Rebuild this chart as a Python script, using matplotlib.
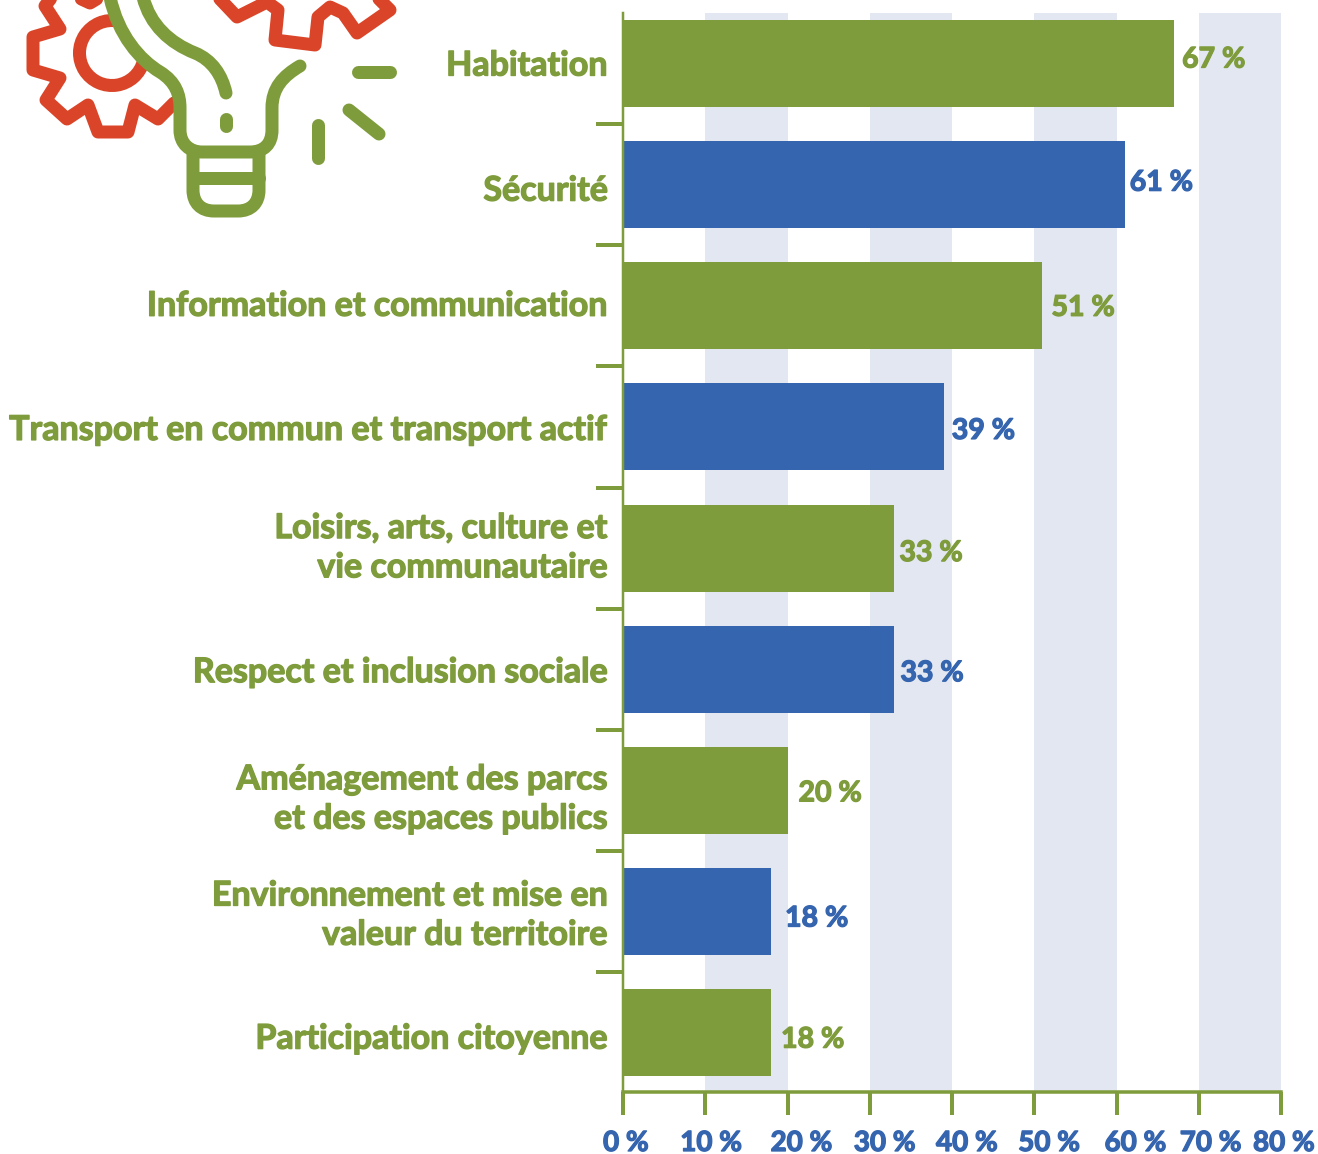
import matplotlib
matplotlib.use('Agg')
import matplotlib.pyplot as plt
import matplotlib.patheffects as pe
from matplotlib.path import Path
from matplotlib.patches import PathPatch, Arc
from matplotlib.transforms import ScaledTranslation

categories = ['Habitation', 'Sécurité', 'Information et communication',
              'Transport en commun et transport actif',
              'Loisirs, arts, culture et\nvie communautaire',
              'Respect et inclusion sociale',
              'Aménagement des parcs\net des espaces publics',
              'Environnement et mise en\nvaleur du territoire',
              'Participation citoyenne']
values = [67, 61, 51, 39, 33, 33, 20, 18, 18]
x_ticks = [0, 10, 20, 30, 40, 50, 60, 70, 80]
bands = [10, 30, 50, 70]

GREEN = '#7e9c3b'
BLUE = '#3565ae'
RED = '#da4529'
BAND = '#e3e7f2'
W, H = 1318, 1154

plt.rcParams['font.family'] = ['Lato', 'DejaVu Sans']
plt.rcParams['font.weight'] = 'bold'

fig = plt.figure(figsize=(W / 100, H / 100), dpi=100)
ax = fig.add_axes([623 / W, 1 - 1092 / H, 658 / W, (1092 - 13) / H])

px = 72 / 100  # points per pixel


def heavy(t, color):
    # no black weight that renders here, so thicken the bold a little
    t.set_path_effects([pe.withStroke(linewidth=1.3 * px, foreground=color)])


for b in bands:
    ax.axvspan(b, b + 10, color=BAND, lw=0, zorder=0)

bar_colors = [GREEN, BLUE] * 2 + [GREEN, BLUE, GREEN, BLUE, GREEN]
ax.barh(range(len(values)), values, height=87 / 121.1, color=bar_colors, zorder=2)

ax.set_xlim(0, 80)
ax.set_ylim(8.49, -0.417)

# value labels sit at slightly uneven spots in the original
dx = [8, 5, 9, 8, 5, 6, 11, 14, 10]
dy = [-4, -2, 2, 4, 5, 4, 3, 7, 7]
for i, v in enumerate(values):
    t = ax.annotate(f'{v} %', (v, i), xytext=(dx[i] * px, -dy[i] * px), textcoords='offset points',
                    va='center', ha='left', fontsize=20.5, color=bar_colors[i], zorder=3)
    heavy(t, bar_colors[i])

ax.set_yticks(range(len(categories)))
ax.set_yticklabels(categories, fontsize=24.5, color=GREEN, linespacing=1.28, ha='right')
ax.tick_params(axis='y', which='major', length=0, pad=15 * px)
ax.set_yticks([i + 0.5 for i in range(len(categories) - 1)], minor=True)
ax.tick_params(axis='y', which='minor', length=27 * px, width=4 * px, color=GREEN)
label_dy = [-1, 3, -3, 0, -7, 0, 2, -3, 3]
for lab, d in zip(ax.get_yticklabels(), label_dy):
    lab.set_transform(lab.get_transform() + ScaledTranslation(0, -d / 100, fig.dpi_scale_trans))
    heavy(lab, GREEN)

ax.set_xticks(x_ticks)
ax.set_xticklabels([f'{t} %' for t in x_ticks], fontsize=20, color=BLUE)
ax.tick_params(axis='x', length=23 * px, width=4 * px, color=GREEN, pad=15 * px)
label_dx = [3, 6, 14, 15, 15, 15, 19, 12, 3]
for lab, d in zip(ax.get_xticklabels(), label_dx):
    lab.set_transform(lab.get_transform() + ScaledTranslation(d / 100, 0, fig.dpi_scale_trans))
    heavy(lab, BLUE)

for s in ['top', 'right']:
    ax.spines[s].set_visible(False)
ax.spines['left'].set_color(GREEN)
ax.spines['left'].set_linewidth(2.5 * px)
ax.spines['bottom'].set_color(GREEN)
ax.spines['bottom'].set_linewidth(3.5 * px)

# icon, drawn in pixel coordinates over the figure
icon = fig.add_axes([0, 0, 1, 1], zorder=5)
icon.set_xlim(0, W)
icon.set_ylim(H, 0)
icon.axis('off')
icon.patch.set_alpha(0)

M, L, C = Path.MOVETO, Path.LINETO, Path.CURVE4


def stroke(verts, codes, color, z=1):
    icon.add_patch(PathPatch(Path(verts, codes), fc='none', ec=color, lw=13 * px,
                             capstyle='round', joinstyle='round', zorder=z))


small_gear = [(100, -3), (90, 3), (77, -3), (52, -3), (45, 6), (60, 29), (33, 37), (33, 70),
              (60, 78), (46, 100), (67, 119), (88, 105), (98, 132), (128, 132), (135, 105),
              (158, 119), (174, 103)]
stroke(small_gear, [M] + [L] * (len(small_gear) - 1), RED)
big_gear = [(218, -3), (237, 17), (267, 2), (278, 10), (275, 40), (315, 45), (318, 17),
            (330, 7), (343, 13), (357, 33), (390, 10), (377, -3)]
stroke(big_gear, [M] + [L] * (len(big_gear) - 1), RED)
# y axis is inverted here, so angles run clockwise on screen
icon.add_patch(Arc((112, 53), 65, 65, theta1=15, theta2=280, ec=RED, lw=13 * px, zorder=1))

bulb = [(110, -3), (118, 35), (140, 60), (160, 72),
        (176, 82), (180, 95), (180, 108),
        (180, 120), (180, 120), (180, 130),
        (180, 144), (190, 152), (202, 152),
        (220, 152), (235, 152), (250, 152),
        (264, 152), (272, 144), (272, 130),
        (272, 122), (272, 116), (272, 108),
        (272, 88), (283, 76), (300, 66)]
stroke(bulb, [M] + [C] * 24, GREEN, 2)
inner = [(143, -3), (150, 25), (170, 43), (195, 53), (212, 60), (222, 75), (226, 93)]
stroke(inner, [M] + [C] * 6, GREEN, 2)
base = [(193, 152), (193, 190), (193, 203), (201, 211), (214, 211),
        (238, 211), (251, 211), (259, 203), (259, 190), (259, 152)]
stroke(base, [M, L, C, C, C, L, C, C, C, L], GREEN, 2)
for seg in [[(193, 178), (259, 178)], [(226, 119), (226, 126)], [(358, 72), (390, 72)],
            [(349, 110), (379, 134)], [(318, 125), (318, 158)]]:
    stroke(seg, [M, L], GREEN, 2)

fig.savefig('out.png', dpi=100)
